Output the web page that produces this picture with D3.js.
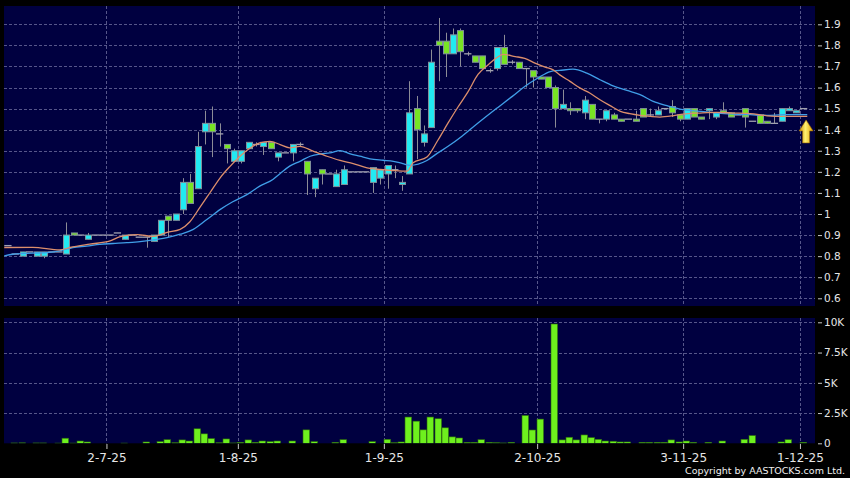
<!DOCTYPE html>
<html><head><meta charset="utf-8">
<script src="https://cdn.jsdelivr.net/npm/d3@7"></script>
<style>
html,body{margin:0;padding:0;background:#000;}
svg{display:block;}
text{font-family:"DejaVu Sans",sans-serif;}
</style></head><body>
<svg id="chart" width="850" height="478"></svg>
<script>
// ---------- DATA (one slot per trading session) ----------
const opens=[0.85,0.81,0.80,0.82,0.80,0.80,0.82,0.82,0.81,0.91,
0.90,0.88,0.90,0.90,0.90,0.91,0.88,0.90,0.89,0.89,
0.87,0.90,0.99,0.97,1.02,1.15,1.12,1.39,1.43,1.38,
1.33,1.25,1.25,1.31,1.33,1.32,1.34,1.27,1.29,1.29,
1.33,1.25,1.12,1.21,1.19,1.13,1.14,1.20,1.20,1.20,
1.15,1.17,1.19,1.21,1.14,1.19,1.50,1.34,1.41,1.82,
1.82,1.76,1.87,1.76,1.75,1.75,1.68,1.69,1.79,1.72,
1.72,1.69,1.68,1.65,1.65,1.60,1.50,1.50,1.50,1.48,
1.52,1.45,1.45,1.47,1.45,1.45,1.45,1.50,1.47,1.47,
1.50,1.51,1.47,1.45,1.50,1.46,1.49,1.46,1.49,1.48,
1.47,1.50,1.44,1.47,1.44,1.43,1.44,1.49,1.48,1.50];
const closes=[0.85,0.81,0.82,0.82,0.82,0.82,0.82,0.82,0.90,0.90,
0.90,0.90,0.90,0.90,0.90,0.91,0.90,0.90,0.89,0.89,
0.90,0.97,0.97,1.00,1.15,1.05,1.32,1.43,1.39,1.38,
1.31,1.30,1.30,1.34,1.33,1.34,1.31,1.29,1.29,1.33,
1.33,1.19,1.17,1.19,1.19,1.19,1.21,1.20,1.20,1.20,
1.22,1.21,1.23,1.21,1.15,1.48,1.40,1.38,1.72,1.80,
1.76,1.85,1.77,1.76,1.72,1.69,1.68,1.79,1.71,1.72,
1.69,1.69,1.65,1.64,1.60,1.50,1.52,1.49,1.49,1.54,
1.45,1.45,1.49,1.45,1.44,1.45,1.44,1.46,1.47,1.49,
1.50,1.48,1.45,1.50,1.46,1.45,1.50,1.48,1.48,1.46,
1.47,1.46,1.44,1.43,1.43,1.43,1.50,1.50,1.49,1.50];
const highs=[0.85,0.81,0.82,0.82,0.82,0.82,0.82,0.82,0.96,0.91,
0.90,0.91,0.90,0.90,0.90,0.91,0.90,0.90,0.89,0.89,
0.90,0.97,0.99,1.00,1.17,1.19,1.39,1.49,1.51,1.43,
1.33,1.31,1.30,1.34,1.34,1.34,1.34,1.29,1.29,1.33,
1.34,1.25,1.17,1.21,1.19,1.21,1.23,1.20,1.20,1.20,
1.22,1.21,1.23,1.23,1.18,1.63,1.56,1.42,1.78,1.93,
1.86,1.88,1.88,1.77,1.75,1.75,1.69,1.79,1.85,1.73,
1.72,1.69,1.68,1.65,1.65,1.61,1.59,1.53,1.50,1.56,
1.52,1.45,1.49,1.48,1.45,1.45,1.49,1.50,1.50,1.51,
1.50,1.54,1.47,1.50,1.50,1.46,1.50,1.48,1.53,1.48,
1.47,1.50,1.44,1.47,1.44,1.48,1.50,1.51,1.49,1.50];
const lows=[0.85,0.81,0.80,0.82,0.80,0.79,0.82,0.82,0.81,0.90,
0.90,0.88,0.90,0.90,0.90,0.91,0.88,0.90,0.89,0.84,
0.87,0.90,0.89,0.97,1.00,1.05,1.12,1.33,1.27,1.32,
1.24,1.25,1.24,1.31,1.32,1.28,1.31,1.25,1.29,1.25,
1.32,1.09,1.08,1.14,1.19,1.13,1.14,1.20,1.20,1.20,
1.10,1.14,1.12,1.17,1.11,1.19,1.26,1.32,1.41,1.63,
1.65,1.76,1.70,1.75,1.72,1.69,1.67,1.68,1.71,1.71,
1.69,1.60,1.60,1.64,1.60,1.41,1.50,1.47,1.48,1.45,
1.45,1.43,1.44,1.45,1.44,1.45,1.44,1.46,1.46,1.47,
1.50,1.46,1.44,1.45,1.46,1.45,1.45,1.45,1.48,1.46,
1.47,1.41,1.44,1.43,1.43,1.43,1.44,1.49,1.48,1.50];
const volumes=[0,30,40,0,30,30,0,20,420,20,
190,110,0,0,0,0,20,0,0,110,
0,140,300,50,280,190,1200,780,390,50,
360,30,80,280,80,190,140,190,0,190,
0,1110,140,0,0,80,300,0,0,0,
140,0,330,50,110,2170,1830,1110,2170,2030,
1280,530,440,80,80,300,80,50,30,80,
0,2300,1100,2000,0,9860,280,500,280,690,
470,330,190,170,110,110,0,80,80,80,
80,280,110,190,80,0,80,0,190,0,
0,330,640,0,0,0,110,300,0,80];
// moving averages: [slot, price]
const maFast=[[-0.5,0.841],[3.4,0.842],[7.1,0.830],[8.5,0.841],[11.2,0.857],[14.0,0.872],[15.4,0.893],[17.7,0.902],[19.9,0.894],[21.8,0.913],[23.6,0.927],[24.9,0.962],[26.3,1.031],[27.7,1.102],[29.1,1.173],[30.4,1.225],[31.8,1.274],[32.9,1.306],[34.5,1.337],[35.9,1.345],[37.3,1.329],[38.6,1.314],[40.0,1.321],[41.8,1.298],[43.7,1.274],[45.5,1.254],[47.3,1.239],[49.2,1.219],[51.0,1.211],[52.8,1.206],[54.7,1.203],[55.5,1.243],[57.4,1.270],[58.9,1.350],[60.3,1.432],[61.7,1.510],[63.0,1.578],[64.4,1.662],[65.8,1.708],[67.1,1.745],[67.8,1.757],[69.5,1.747],[70.8,1.738],[72.2,1.716],[73.6,1.697],[74.7,1.684],[75.6,1.660],[77.0,1.629],[78.4,1.597],[79.7,1.574],[81.1,1.542],[82.5,1.514],[83.9,1.487],[85.2,1.476],[86.6,1.468],[88.0,1.463],[89.3,1.460],[91.1,1.466],[92.5,1.474],[94.8,1.479],[97.1,1.482],[99.3,1.479],[101.7,1.476],[104.0,1.466],[106.2,1.463],[109.5,1.463]];
const maSlow=[[-0.5,0.801],[0.7,0.809],[3.4,0.814],[5.4,0.817],[7.1,0.825],[8.9,0.841],[10.8,0.848],[12.6,0.856],[14.4,0.860],[16.3,0.864],[18.1,0.869],[19.9,0.877],[21.8,0.888],[23.6,0.904],[25.4,0.927],[27.3,0.975],[29.1,1.022],[30.8,1.058],[32.8,1.093],[34.5,1.132],[36.3,1.164],[37.3,1.192],[38.6,1.227],[40.0,1.250],[41.4,1.274],[42.8,1.285],[44.1,1.290],[45.5,1.301],[46.9,1.285],[48.2,1.274],[49.6,1.262],[51.4,1.255],[52.8,1.250],[54.1,1.239],[55.1,1.231],[57.4,1.254],[58.9,1.290],[60.3,1.321],[62.2,1.369],[64.4,1.432],[66.7,1.495],[69.1,1.558],[70.8,1.605],[72.6,1.645],[74.3,1.676],[75.6,1.681],[77.4,1.687],[79.3,1.668],[81.1,1.637],[82.9,1.608],[84.8,1.586],[86.6,1.566],[88.4,1.534],[90.3,1.514],[92.1,1.498],[94.8,1.487],[97.1,1.479],[99.3,1.474],[101.7,1.471],[104.0,1.468],[106.2,1.471],[109.5,1.471]];
const monthLabels=["2-7-25","1-8-25","1-9-25","2-10-25","3-11-25","1-12-25"];
const monthSlots=[14,32,52,73,93,109];
const priceTicks=[0.6,0.7,0.8,0.9,1.0,1.1,1.2,1.3,1.4,1.5,1.6,1.7,1.8,1.9];
const volumeTicks=[0,2500,5000,7500,10000];
const copyrightText="Copyright by AASTOCKS.com Ltd.";

// ---------- LAYOUT ----------
const svg=d3.select("#chart");
const L=4,R=815, pT=6, pB=306, vT=318, vB=443.3;
const step=7.3;
const n=opens.length;
const x=d3.scaleLinear().domain([0,n-1]).range([7.9,7.9+step*(n-1)]);
const yP=d3.scaleLinear().domain([0.6,1.9]).range([298.3,24.3]);
const yV=d3.scaleLinear().domain([0,10000]).range([vB,322.3]);

const NAVY="#000040", GRID="#56568a", CYAN="#22eaf2", GREEN="#78e424", VOL="#6ef01e";

svg.append("rect").attr("width",850).attr("height",478).attr("fill","#000");
const defs=svg.append("defs");
defs.append("clipPath").attr("id","cp").append("rect").attr("x",L).attr("y",pT).attr("width",R-L).attr("height",pB-pT);
defs.append("clipPath").attr("id","cv").append("rect").attr("x",L).attr("y",vT).attr("width",R-L).attr("height",vB-vT);
const grad=defs.append("linearGradient").attr("id","ag").attr("x1","0").attr("x2","1").attr("y1","0").attr("y2","0");
grad.append("stop").attr("offset","0").attr("stop-color","#c88a00");
grad.append("stop").attr("offset","0.45").attr("stop-color","#fff070");
grad.append("stop").attr("offset","1").attr("stop-color","#e0a000");

svg.append("rect").attr("x",L).attr("y",pT).attr("width",R-L).attr("height",pB-pT).attr("fill",NAVY);
svg.append("rect").attr("x",L).attr("y",vT).attr("width",R-L).attr("height",vB-vT).attr("fill",NAVY);

// grid
const grid=svg.append("g").attr("stroke",GRID).attr("stroke-width",1).attr("stroke-dasharray","3,2").attr("fill","none");
grid.selectAll("line.hp").data(priceTicks).join("line")
  .attr("x1",L).attr("x2",R).attr("y1",d=>Math.round(yP(d))+0.5).attr("y2",d=>Math.round(yP(d))+0.5);
grid.selectAll("line.hv").data(volumeTicks.filter(d=>d>0)).join("line").attr("class","hv")
  .attr("x1",L).attr("x2",R).attr("y1",d=>Math.round(yV(d))+0.5).attr("y2",d=>Math.round(yV(d))+0.5);
monthSlots.forEach(s=>{
  const gx=Math.round(x(s-0.5))+0.5;
  grid.append("line").attr("x1",gx).attr("x2",gx).attr("y1",pT).attr("y2",pB);
  grid.append("line").attr("x1",gx).attr("x2",gx).attr("y1",vT).attr("y2",vB);
});

// candles
const data=d3.range(n).map(i=>({i,o:opens[i],h:highs[i],l:lows[i],c:closes[i],v:volumes[i]}));
const cg=svg.append("g").attr("clip-path","url(#cp)");
cg.selectAll("line.w").data(data.filter(d=>d.h>d.l)).join("line")
  .attr("x1",d=>Math.round(x(d.i))+0.5).attr("x2",d=>Math.round(x(d.i))+0.5)
  .attr("y1",d=>yP(d.h)).attr("y2",d=>yP(d.l)).attr("stroke","#8c8c96").attr("stroke-width",1);
cg.selectAll("line.dj").data(data.filter(d=>d.o===d.c)).join("line")
  .attr("x1",d=>x(d.i)-step/2).attr("x2",d=>x(d.i)+step/2)
  .attr("y1",d=>yP(d.c)).attr("y2",d=>yP(d.c)).attr("stroke","#a2a2b0").attr("stroke-width",1.3);
cg.selectAll("rect.b").data(data.filter(d=>d.o!==d.c)).join("rect")
  .attr("x",d=>Math.round(x(d.i))-2.5).attr("width",6)
  .attr("y",d=>yP(Math.max(d.o,d.c))).attr("height",d=>Math.max(1,Math.abs(yP(d.o)-yP(d.c))))
  .attr("fill",d=>d.c>d.o?CYAN:GREEN).attr("stroke","#80909a").attr("stroke-width",1);

// moving averages
const line=d3.line().x(d=>x(d[0])).y(d=>yP(d[1])).curve(d3.curveMonotoneX);
cg.append("path").datum(maSlow).attr("d",line).attr("fill","none").attr("stroke","#409ee8").attr("stroke-width",1.3);
cg.append("path").datum(maFast).attr("d",line).attr("fill","none").attr("stroke","#dc8e6c").attr("stroke-width",1.3);

// arrow marking last value
const ax=x(n-1)+2.5, at=yP(maFast[maFast.length-1][1])+3.5;
svg.append("path").attr("d",`M${ax},${at} L${ax+7},${at+11} L${ax+3.5},${at+11} L${ax+3.5},${at+23} L${ax-3.5},${at+23} L${ax-3.5},${at+11} L${ax-7},${at+11} Z`)
  .attr("fill","url(#ag)").attr("stroke","#a06a00").attr("stroke-width",0.6);

// volume
const vg=svg.append("g").attr("clip-path","url(#cv)");
vg.selectAll("rect").data(data.filter(d=>d.v>0)).join("rect")
  .attr("x",d=>Math.round(x(d.i))-4).attr("width",6.6)
  .attr("y",d=>yV(d.v)).attr("height",d=>yV(0)-yV(d.v))
  .attr("fill",VOL).attr("stroke","#2c6a0c").attr("stroke-width",0.6);

// axes
function styleAxis(g,size){
  g.select(".domain").remove();
  g.selectAll(".tick line").attr("stroke","#c8c8c8");
  g.selectAll(".tick text").attr("fill","#e6e6e6").style("font-size",size).style("font-family","DejaVu Sans");
}
const fmtP=d3.format("~g");
svg.append("g").attr("transform","translate(818,0)")
  .call(d3.axisRight(yP).tickValues(priceTicks).tickFormat(fmtP).tickSize(4).tickPadding(2))
  .call(g=>styleAxis(g,"10.5px"));
svg.append("g").attr("transform","translate(818,0)")
  .call(d3.axisRight(yV).tickValues(volumeTicks).tickFormat(d=>d===0?"0":fmtP(d/1000)+"K").tickSize(4).tickPadding(2))
  .call(g=>styleAxis(g,"10.5px"));
svg.append("g").attr("transform",`translate(0,${vB+0.7})`)
  .call(d3.axisBottom(x).tickValues(monthSlots.map(s=>s-0.5)).tickFormat((d,i)=>monthLabels[i]).tickSize(5).tickPadding(4))
  .call(g=>styleAxis(g,"12px"));

svg.append("text").attr("x",845).attr("y",473.5).attr("text-anchor","end")
  .attr("fill","#f0f0f0").style("font-size","9.5px").text(copyrightText);
</script></body></html>
